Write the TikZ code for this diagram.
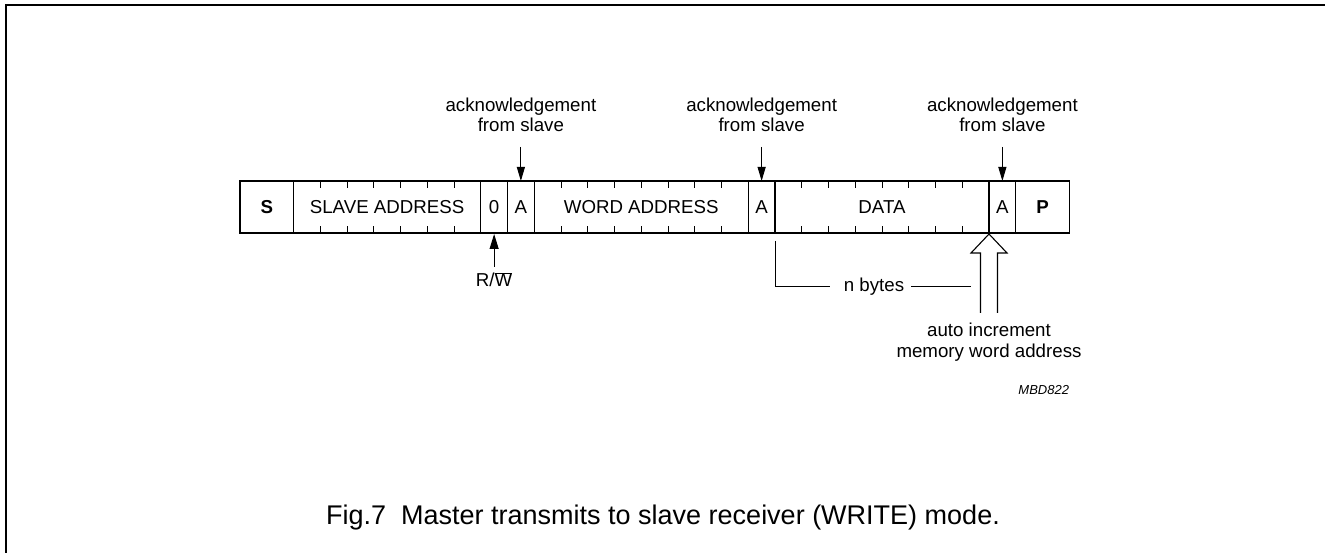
\documentclass[tikz,border=0pt]{standalone}
\usepackage{fontspec}
\setmainfont{Liberation Sans}
\usetikzlibrary{arrows.meta,calc}
\newcommand\lab{\fontsize{18.7}{20.5}\selectfont}
\newcommand\capfont{\fontsize{27}{30}\selectfont}
\newcommand\idfont{\fontsize{13}{15}\selectfont\itshape}
\def\u{26.75}
\begin{document}
\begin{tikzpicture}[x=1pt,y=-1pt,
  field/.style={draw, line width=1.2, minimum height=52, inner sep=0, outer sep=0, font=\lab, anchor=center},
  tickmark/.style={line width=1},
  lbl/.style={font=\lab, inner sep=0, align=center},
  ackarrow/.style={line width=1, -{Triangle[length=14, width=8]}},
  bracket/.style={line width=1}]
\useasboundingbox (0,0) rectangle (1325,553);
\draw[line width=1.6] (6,553) -- (6,5) -- (1325,5);

% fields
\node[field, minimum width=2*\u] (s) at (240+1*\u,207) {\bfseries S};
\node[field, minimum width=7*\u] (sa) at (240+5.5*\u,207) {SLAVE ADDRESS};
\node[field, minimum width=1*\u] (zero) at (240+9.5*\u,207) {0};
\node[field, minimum width=1*\u] (a1) at (240+10.5*\u,207) {A};
\node[field, minimum width=8*\u] (wa) at (240+15*\u,207) {WORD ADDRESS};
\node[field, minimum width=1*\u] (a2) at (240+19.5*\u,207) {A};
\node[field, minimum width=8*\u] (data) at (240+24*\u,207) {DATA};
\node[field, minimum width=1*\u] (a3) at (240+28.5*\u,207) {A};
\node[field, minimum width=2*\u] (p) at (240+30*\u,207) {\bfseries P};

% ticks
\foreach \i in {1,...,6}
  \draw[tickmark] ($(sa.north west)+(\i*\u,0)$) -- ++(0,7) ($(sa.south west)+(\i*\u,0)$) -- ++(0,-7);
\foreach \f in {wa,data}
  \foreach \i in {1,...,7}
    \draw[tickmark] ($(\f.north west)+(\i*\u,0)$) -- ++(0,7) ($(\f.south west)+(\i*\u,0)$) -- ++(0,-7);

% acknowledgements
\foreach \a/\n in {a1/k1,a2/k2,a3/k3}{
  \node[lbl, anchor=base] (\n) at ($(\a.north)+(0,-49)$) {acknowledgement\\from slave};
  \draw[ackarrow] ($(\a.north)+(0,-34)$) -- (\a.north);
}

% R/W
\draw[line width=1, -{Triangle[length=15, width=9]}] ($(zero.south)+(0,34)$) -- ($(zero.south)+(0,1)$);
\node[lbl, anchor=base] (rw) at ($(zero.south)+(0,54)$) {R/$\overline{\mbox{W}}$};

% n bytes
\node[lbl, anchor=center] (nb) at (874,287) {n bytes};
\coordinate (nbend) at (971,287);
\draw[bracket] ($(a2.south east)+(0,8)$) |- ([xshift=-14]nb.west);
\draw[bracket] ([xshift=7]nb.east) -- (nbend);

% auto increment hollow arrow
\coordinate (tip) at ($(data.south east)+(0,1)$);
\draw[line width=1.1, line join=miter]
  ($(tip)+(-8.5,79)$) -- ($(tip)+(-8.5,19)$) -- ($(tip)+(-18,19)$) -- (tip)
  -- ($(tip)+(18,19)$) -- ($(tip)+(8.5,19)$) -- ($(tip)+(8.5,79)$);
\node[lbl, anchor=base] (auto) at ($(tip)+(0,123)$) {auto increment\\memory word address};

% id
\node[inner sep=0, anchor=base east, font=\idfont] (id) at (p.south east |- 0,394) {MBD822};

% caption
\node[inner sep=0, anchor=base, font=\capfont] (cap) at (663,524) {Fig.7\ \ Master transmits to slave receiver (WRITE) mode.};
\end{tikzpicture}
\end{document}
